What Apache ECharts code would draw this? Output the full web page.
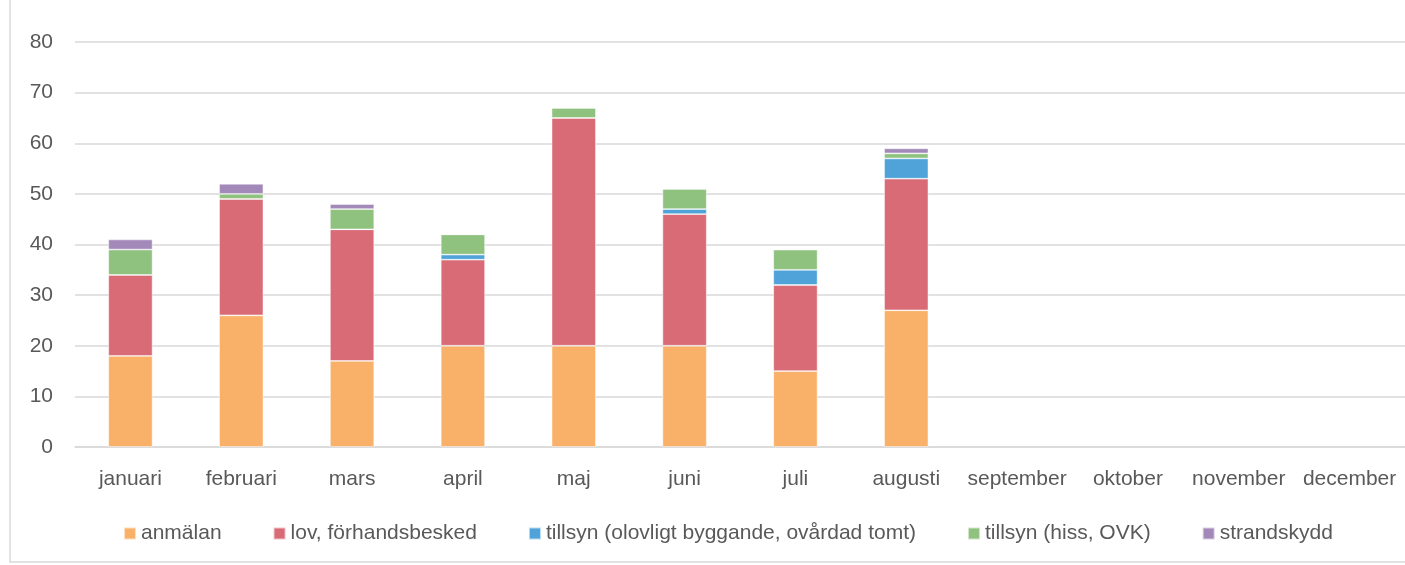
<!DOCTYPE html>
<html><head><meta charset="utf-8">
<script src="https://cdn.jsdelivr.net/npm/echarts@6/dist/echarts.min.js"></script>
<style>html,body{margin:0;padding:0;background:#fff}#c{width:1405px;height:565px}</style>
</head><body><div id="c"></div>
<script>
const categories = ['januari','februari','mars','april','maj','juni','juli','augusti','september','oktober','november','december'];
const seriesNames = ['anmälan','lov, förhandsbesked','tillsyn (olovligt byggande, ovårdad tomt)','tillsyn (hiss, OVK)','strandskydd'];
const anmalan = [18,26,17,20,20,20,15,27,null,null,null,null];
const lov = [16,23,26,17,45,26,17,26,null,null,null,null];
const tillsynOlovligt = [0,0,0,1,0,1,3,4,null,null,null,null];
const tillsynHiss = [5,1,4,4,2,4,4,1,null,null,null,null];
const strandskydd = [2,2,1,0,0,0,0,1,null,null,null,null];
const yTicks = [0,10,20,30,40,50,60,70,80];
const colors = ['#F9B068','#D96B77','#4FA3D8','#8FC17F','#A289B9'];
const dataList = [anmalan, lov, tillsynOlovligt, tillsynHiss, strandskydd];
const font = 'Liberation Sans';
const chart = echarts.init(document.getElementById('c'));
chart.setOption({
  animation:false,
  color:colors,
  graphic:[{type:'rect',shape:{x:10,y:-5,width:1420,height:567},style:{fill:'none',stroke:'#D9D9D9',lineWidth:1.5},silent:true}],
  grid:{left:75,right:0,top:42,bottom:118},
  legend:{bottom:16,left:118,itemWidth:12,itemHeight:12,itemGap:51,icon:'rect',
    textStyle:{color:'#595959',fontSize:21,fontFamily:font},data:seriesNames},
  xAxis:{type:'category',data:categories,
    axisLine:{lineStyle:{color:'#D9D9D9',width:1.5}},axisTick:{show:false},
    axisLabel:{color:'#595959',fontSize:21,fontFamily:font,margin:22,interval:0}},
  yAxis:{type:'value',min:0,max:80,interval:10,
    axisLine:{show:false},axisTick:{show:false},
    splitLine:{lineStyle:{color:'#D9D9D9',width:1.5}},
    axisLabel:{color:'#595959',fontSize:21,fontFamily:font,margin:22}},
  series:dataList.map((d,i)=>({name:seriesNames[i],type:'bar',stack:'t',data:d,barWidth:'40%',
    itemStyle:{color:colors[i],borderColor:'rgba(255,255,255,0.6)',borderWidth:0.8}}))
});
</script></body></html>
